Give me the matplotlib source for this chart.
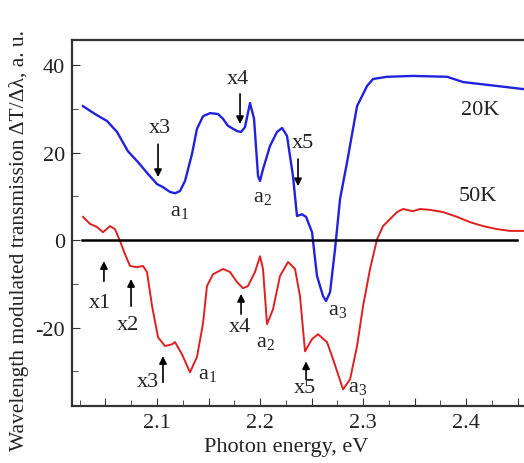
import numpy as np
import matplotlib.pyplot as plt
from matplotlib.ticker import MultipleLocator, FuncFormatter

plt.rcParams['font.family'] = ['Liberation Serif', 'DejaVu Serif']
plt.rcParams['mathtext.fontset'] = 'custom'
plt.rcParams['mathtext.rm'] = 'Liberation Serif'
plt.rcParams['axes.unicode_minus'] = False

# 20K spectrum (blue)
e_20k = [2.0282, 2.0398, 2.0515, 2.0612, 2.0718, 2.0816, 2.0913, 2.1000, 2.1058, 2.1126,
         2.1175, 2.1223, 2.1272, 2.1340, 2.1388, 2.1447, 2.1515, 2.1592, 2.1641, 2.1689,
         2.1777, 2.1816, 2.1854, 2.1903, 2.1942, 2.1981, 2.2000, 2.2029, 2.2097, 2.2165,
         2.2214, 2.2262, 2.2320, 2.2359, 2.2408, 2.2447, 2.2505, 2.2553, 2.2612, 2.2641,
         2.2680, 2.2728, 2.2777, 2.2845, 2.2942, 2.3039, 2.3097, 2.3233, 2.3485, 2.3816,
         2.3971, 2.4301, 2.4553]
t_20k = [30.6, 28.8, 27.2, 24.7, 20.3, 17.8, 15.1, 12.8, 12.1, 11.0,
         10.7, 11.2, 13.5, 19.7, 25.4, 28.3, 29.0, 28.8, 27.7, 26.1,
         24.9, 24.7, 25.8, 31.3, 27.7, 14.6, 13.5, 16.2, 21.5, 24.7,
         25.6, 23.8, 14.6, 5.5, 5.9, 5.3, 1.8, -8.2, -12.8, -13.9,
         -11.9, -2.1, 9.4, 17.8, 30.6, 35.2, 36.8, 37.3, 37.5, 37.3,
         36.1, 35.2, 34.5]

# 50K spectrum (red)
e_50k = [2.0282, 2.0350, 2.0417, 2.0476, 2.0544, 2.0592, 2.0641, 2.0689, 2.0738, 2.0806,
         2.0864, 2.0903, 2.0951, 2.1010, 2.1078, 2.1146, 2.1175, 2.1243, 2.1320, 2.1388,
         2.1447, 2.1485, 2.1544, 2.1641, 2.1709, 2.1777, 2.1835, 2.1883, 2.1951, 2.2000,
         2.2029, 2.2068, 2.2126, 2.2194, 2.2272, 2.2340, 2.2388, 2.2437, 2.2505, 2.2563,
         2.2650, 2.2709, 2.2806, 2.2874, 2.2942, 2.3000, 2.3068, 2.3136, 2.3194, 2.3262,
         2.3330, 2.3388, 2.3485, 2.3553, 2.3650, 2.3777, 2.3913, 2.4039, 2.4165, 2.4301,
         2.4427, 2.4553]
t_50k = [5.3, 3.7, 3.0, 1.8, 3.2, 2.5, -0.2, -3.2, -5.9, -6.2,
         -5.9, -7.3, -14.9, -22.2, -24.2, -23.8, -23.3, -26.1, -30.2, -26.7,
         -19.0, -10.5, -7.8, -6.6, -7.3, -9.6, -11.0, -10.5, -7.3, -3.7,
         -6.6, -19.2, -15.8, -8.2, -5.0, -6.6, -12.8, -25.4, -22.6, -21.5,
         -23.3, -27.2, -34.1, -31.8, -24.2, -15.1, -6.6, 0.2, 3.2, 4.8,
         6.4, 7.1, 6.6, 7.1, 6.9, 6.4, 5.3, 4.1, 3.2, 2.5,
         2.1, 2.1]

# arrow marks: label, x position, tail value, head value, label position
arrows = [
    ('x3', 2.101, 21.9, 14.4, 2.103, 25.8),
    ('x4', 2.1806, 33.4, 26.5, 2.1786, 36.8),
    ('x5', 2.2369, 18.5, 12.3, 2.2417, 22.4),
    ('x1', 2.0485, -9.4, -4.8, 2.0447, -14.2),
    ('x2', 2.0748, -15.1, -8.9, 2.0718, -19.2),
    ('x3', 2.1058, -32.5, -26.5, 2.0913, -32.3),
    ('x4', 2.1816, -16.9, -12.3, 2.1806, -19.7),
    ('x5', 2.2447, -31.8, -27.7, 2.2437, -33.6),
]
peaks = [
    (r'a$_1$', 2.1223, 6.6), (r'a$_2$', 2.202, 9.8), (r'a$_3$', 2.2757, -16.0),
    (r'a$_1$', 2.1495, -30.6), (r'a$_2$', 2.2049, -23.3), (r'a$_3$', 2.2951, -33.6),
]

fig = plt.figure(figsize=(5.24, 4.64), dpi=100)
ax = fig.add_axes([0.1374, 0.1228, 0.870, 0.7888])

ax.plot(e_20k, t_20k, color='#2222dd', lw=1.7)
ax.plot(e_50k, t_50k, color='#e02020', lw=1.4)
ax.plot([2.0272, 2.4495], [0, 0], color='black', lw=1.8)

for lab, x, y0, y1, tx, ty in arrows:
    ax.annotate('', xy=(x, y1), xytext=(x, y0),
                arrowprops=dict(arrowstyle='-|>', color='black', lw=1.2,
                                mutation_scale=11, shrinkA=0, shrinkB=0))
    ax.text(tx, ty, lab, fontsize=16, ha='center', va='center', color='#222222')

for lab, x, y in peaks:
    ax.text(x, y, lab, fontsize=16, ha='center', va='center', color='#222222')

ax.text(2.4136, 29.9, '20K', fontsize=16, ha='center', va='center', color='#222222')
ax.text(2.4117, 10.1, '50K', fontsize=16, ha='center', va='center', color='#222222')

ax.set_xlim(2.0175, 2.46)
ax.set_ylim(-37.9, 45.7)
ax.xaxis.set_major_locator(MultipleLocator(0.05))
ax.xaxis.set_minor_locator(MultipleLocator(0.025))
ax.xaxis.set_major_formatter(FuncFormatter(
    lambda v, p: f'{v:.1f}' if abs(round(v * 10) - v * 10) < 1e-6 else ''))
ax.yaxis.set_major_locator(MultipleLocator(20))
ax.yaxis.set_minor_locator(MultipleLocator(10))
ax.tick_params(which='both', direction='in', labelsize=16, colors='#333333',
               labelcolor='#222222')
ax.tick_params(which='major', length=6, pad=5)
ax.tick_params(which='minor', length=4)
for s in ['left', 'bottom', 'top']:
    ax.spines[s].set_color('#333333')
    ax.spines[s].set_linewidth(1.6)
ax.spines['right'].set_visible(False)

ax.set_xlabel('Photon energy, eV', fontsize=16, color='#222222')
ax.set_ylabel('Wavelength modulated transmission ΔT/Δλ, a. u.', fontsize=15.5,
              color='#222222')
ax.xaxis.set_label_coords(0.469, -0.085)
ax.yaxis.set_label_coords(-0.095, 0.455)

fig.savefig('out.png', dpi=100)
